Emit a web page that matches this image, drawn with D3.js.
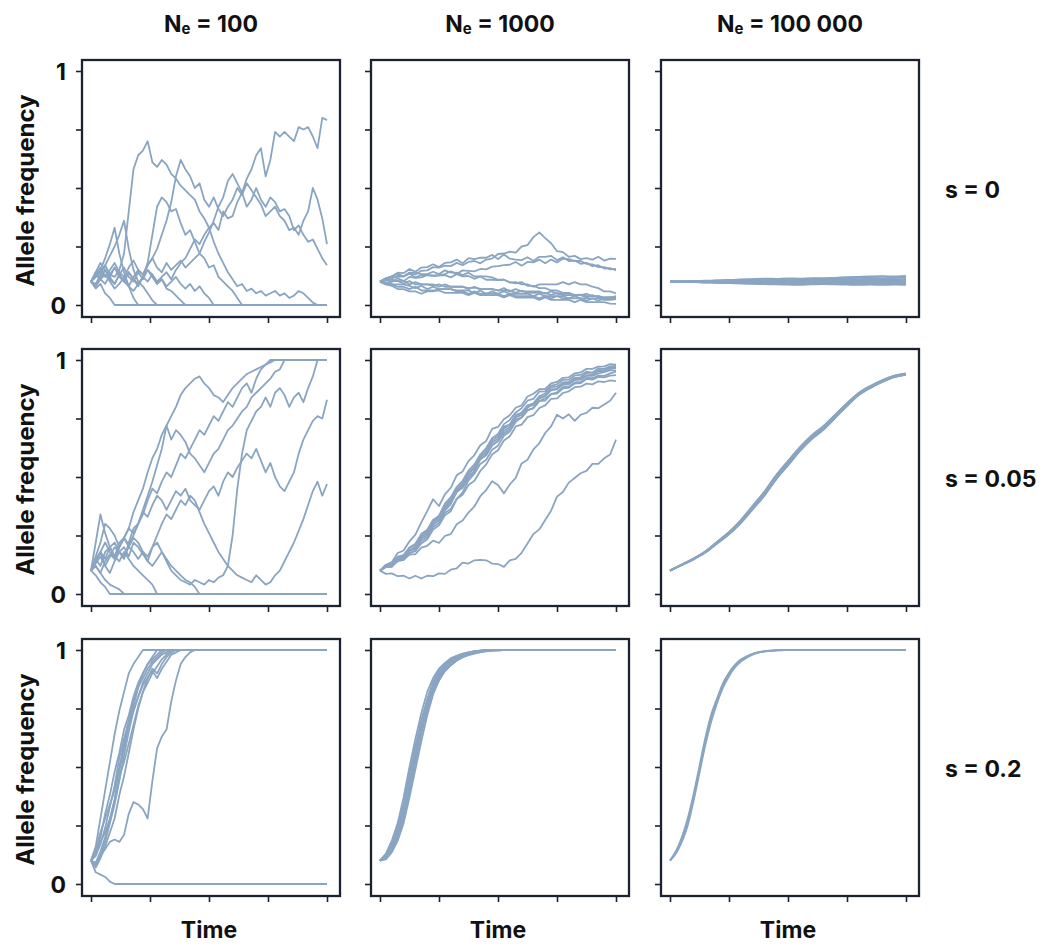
<!DOCTYPE html>
<html>
<head>
<meta charset="utf-8">
<script src="https://cdn.jsdelivr.net/npm/d3@7"></script>
<style>
  body { margin: 0; background: #fff; }
  text { font-family: Inter, "Liberation Sans", Arial, sans-serif; font-weight: 700; fill: #111; }
</style>
</head>
<body>
<svg id="chart" width="1049" height="947"></svg>
<script>
// Column and row headers
const popSizes = ["100", "1000", "100 000"];
const selCoefs = ["0", "0.05", "0.2"];

// Axis ticks (frequency stored in %)
const yTickValues = [0, 25, 50, 75, 100];
const yTickLabels = { 0: "0", 100: "1" };
const xTickValues = [0, 25, 50, 75, 100];

// Allele-frequency trajectories (%), one array per replicate,
// sampled every `step` time units from t = 0 to t = 100.

// Ne = 100, s = 0  (step 2)
const ne100_s0 = [
  [10,12,14,17,13,12,15,22,40,58, 64,66,70,61,59,62,60,56,54,51, 49,47,45,40,37,33,27,22,18,14, 11,8,9,6,7,5,6,4,5,6, 4,5,3,4,6,5,3,1,0,0, 0],
  [10,13,16,12,15,18,14,12,16,19, 15,13,17,20,16,14,18,15,17,19, 16,18,20,22,27,31,36,42,46,53, 56,52,48,54,58,64,67,55,62,74, 72,74,72,70,76,75,76,72,67,80, 79],
  [10,8,12,15,11,9,13,10,8,12, 15,13,17,20,24,30,36,44,55,62, 58,55,50,52,45,42,46,41,38,42, 45,50,47,52,49,46,43,38,40,42, 38,36,32,33,30,36,40,50,45,37, 26],
  [10,14,11,9,13,16,12,10,14,11, 9,12,15,13,10,12,14,11,15,18, 20,24,28,26,30,33,35,32,40,37, 38,44,48,42,45,50,45,42,46,44, 40,41,38,32,34,30,27,28,24,20, 17],
  [10,8,11,13,10,7,9,12,8,6, 9,12,18,30,42,46,44,40,41,35, 30,32,27,22,20,16,17,12,10,8, 6,3,0,0,0,0,0,0,0,0, 0,0,0,0,0,0,0,0,0,0, 0],
  [10,7,9,5,3,0,0,0,0,0, 0,0,0,0,0,0,0,0,0,0, 0,0,0,0,0,0,0,0,0,0, 0,0,0,0,0,0,0,0,0,0, 0,0,0,0,0,0,0,0,0,0, 0],
  [10,12,15,20,26,33,22,14,8,3, 0,0,0,0,0,0,0,0,0,0, 0,0,0,0,0,0,0,0,0,0, 0,0,0,0,0,0,0,0,0,0, 0,0,0,0,0,0,0,0,0,0, 0],
  [10,9,13,17,21,25,30,36,24,15, 10,8,5,2,0,0,0,0,0,0, 0,0,0,0,0,0,0,0,0,0, 0,0,0,0,0,0,0,0,0,0, 0,0,0,0,0,0,0,0,0,0, 0],
  [10,14,18,15,12,16,13,10,14,11, 8,12,10,13,9,11,7,6,4,2, 0,0,0,0,0,0,0,0,0,0, 0,0,0,0,0,0,0,0,0,0, 0,0,0,0,0,0,0,0,0,0, 0],
  [10,13,11,15,12,9,13,16,12,10, 14,11,15,12,9,11,8,10,12,9, 7,9,6,8,5,3,0,0,0,0, 0,0,0,0,0,0,0,0,0,0, 0,0,0,0,0,0,0,0,0,0, 0]
];

// Ne = 1000, s = 0  (step 2.5)
const ne1000_s0 = [
  [10,10.8,11.2,12.5,12.2,13.8,13,14.6,14.8,16.2, 16,16.8,16.6,18,17,18.4,18.8,17.8,19.4,19.8, 21.8,22,22.8,22.4,25,25.6,29,31,28.6,26.4, 23,22.6,20.6,21,19.6,20,19.4,20.6,19,19.8, 19.7],
  [10,11.4,12.2,13.8,13.6,15.4,14.2,16,16.2,17.4, 16.2,18,18.2,19.4,17.8,20,19.6,20.2,20.2,21.4, 19.6,21.6,19.8,19.4,19.2,20.4,18.8,20.6,20.6,21, 19.2,20.4,18.8,19,17.6,18,16.6,17,15.6,15.8, 14.8],
  [10,10.8,9.8,11.4,10.2,12,11.6,11.8,12.8,12.6, 12.8,13.2,14.4,13.2,14.8,14.6,14.4,15.4,15.2,16.4, 16.6,17,17.2,18.4,16.8,18.4,18.2,19.4,17.8,19.4, 18.2,19.8,19.6,18.8,18.8,17.6,17.4,16.2,16.2,15.2, 15.4],
  [10,11.4,11.8,12,12.2,13.4,11.8,12.8,12.8,12.4, 12.6,12.8,11.8,13.2,12.2,12.4,11.2,12.2,10.8,10.8, 10.6,10.8,9.6,9.8,8.8,8.8,7.8,8.8,8.8,8.8, 8.8,9.8,8.8,9.8,8.8,8.8,7.8,7.2,5.8,5.8, 5],
  [10,9.2,10.2,10.2,10.4,8.8,9.8,8.8,8.8,8.8, 7.8,8.8,7.8,7.8,7.8,7.2,7.4,6.8,6.8,6.8, 6.2,7.2,5.8,6.8,5.8,5.8,5.8,5.8,4.8,5.8, 4.8,4.8,4.8,4.2,4.4,3.8,3.8,3.8,3.2,3.4, 3.2],
  [10,8.8,8.8,7.8,7.8,6.8,7.8,6.2,6.2,6.2, 6.2,5.2,5.2,5.2,5.2,4.2,5.2,4.2,4.2,4.2, 4.2,3.2,4.2,3.2,3.2,3.2,3.2,2.2,3.2,2.2, 2.2,2.2,2.2,1.2,2.2,1.2,1.2,1.2,1.2,0.6, 0.5],
  [10,9.8,8.8,8.8,8.8,8.2,7.2,8.2,6.8,7.8, 6.8,6.8,6.8,6.2,6.2,6.2,5.2,6.2,4.8,5.8, 4.8,5.8,4.8,4.8,4.8,4.8,3.8,4.8,3.8,3.8, 3.8,3.8,2.8,3.8,2.8,2.8,2.8,2.8,2.2,2.2, 2.5],
  [10,8.8,8.2,6.8,6.8,5.8,5.8,4.8,5.8,5.8, 6.8,6.8,6.8,5.8,5.8,4.8,5.8,4.8,4.8,4.8, 4.8,3.8,4.8,3.8,3.8,3.8,3.8,2.8,3.8,2.8, 3.8,2.8,2.8,2.8,2.8,1.8,2.8,1.8,2.8,2.8, 3],
  [10,10.8,10.8,10.2,9.2,10.2,8.8,8.8,8.8,8.2, 8.8,7.8,7.8,7.8,7.8,6.8,7.8,6.8,6.8,6.8, 6.2,6.2,6.2,5.2,6.2,5.2,5.2,5.2,5.2,4.2, 5.2,4.2,4.2,4.2,4.2,3.2,4.2,3.2,3.2,3.2, 3.8],
  [10,11.4,12.2,13.4,12.2,13.8,13.8,13.2,13.2,14.2, 13.2,14.8,13.8,13.8,12.8,13.8,12.2,12.2,12.2,11.8, 10.8,10.8,9.8,9.2,9.8,8.2,8.2,7.2,7.2,6.2, 6.2,5.2,5.2,4.2,4.2,4.8,3.8,3.8,2.8,3, 2.6]
];

// Ne = 100 000, s = 0  (step 5)
const ne100k_s0 = [
  [10,10.1,10.2,10.4,10.5,10.7,10.9,11,11.1,11.2,11.4,11.3,11.5,11.4,11.6,11.8,11.9,12,12.1,12,12.1],
  [10,10.1,10.1,10.2,10.4,10.5,10.6,10.7,10.9,10.8,10.9,11,11.1,11.2,11.4,11.5,11.6,11.5,11.4,11.5,11.6],
  [10,10,10.1,10.2,10.2,10.3,10.4,10.3,10.5,10.6,10.5,10.6,10.8,10.7,10.8,10.9,11,10.9,10.8,10.9,11],
  [10,10,10,10.1,10.1,10,10.2,10.1,10.2,10.3,10.2,10.4,10.3,10.4,10.5,10.4,10.3,10.5,10.4,10.5,10.4],
  [10,10,9.9,10,10,10.1,10,9.9,10,10.1,10.2,10.1,10,10.1,10,10.2,10.1,10,10.1,10,10.1],
  [10,9.9,9.9,9.8,9.9,9.8,9.7,9.8,9.7,9.6,9.7,9.6,9.5,9.6,9.7,9.6,9.5,9.6,9.5,9.6,9.5],
  [10,9.9,9.8,9.7,9.6,9.5,9.6,9.5,9.4,9.3,9.2,9.3,9.4,9.3,9.2,9.3,9.2,9.1,9.2,9.3,9.2],
  [10,9.9,9.8,9.6,9.5,9.4,9.3,9.2,9.1,9,8.9,9,9.1,9.2,9.1,9,9.1,9,8.9,9,8.9],
  [10,10,9.9,9.7,9.6,9.4,9.2,9,8.9,8.8,8.7,8.6,8.8,8.9,8.8,8.7,8.6,8.7,8.6,8.7,8.6],
  [10,10.1,10.2,10.3,10.4,10.6,10.8,11.1,11.3,11.2,11.1,11,11.2,11.4,11.6,11.8,12,12.2,12.3,12.2,12.4]
];

// Ne = 100, s = 0.05  (step 2)
const ne100_s005 = [
  [10,12,9,14,17,15,20,24,28,35, 40,45,52,58,62,68,72,76,80,85, 88,90,92,93,90,88,85,84,82,85, 88,90,92,94,95,96,97,98,99,100, 100,100,100,100,100,100,100,100,100,100, 100],
  [10,14,18,12,16,20,18,15,22,28, 30,36,42,48,55,62,72,66,70,68, 65,60,58,55,52,56,60,62,66,70, 72,75,78,80,84,86,88,90,92,95, 96,100,100,100,100,100,100,100,100,100, 100],
  [10,13,16,12,9,14,18,20,16,22, 20,17,14,12,15,18,14,10,8,6, 5,4,6,5,4,6,5,7,8,12, 25,45,60,70,74,78,80,84,80,86, 88,85,80,84,86,82,88,93,100,100, 100],
  [10,15,18,22,18,15,20,24,21,25, 30,35,33,38,42,40,36,40,44,42, 45,40,38,36,40,44,46,42,48,52, 50,54,57,60,58,62,57,52,56,50, 46,44,48,52,60,66,70,74,76,75, 83],
  [10,14,18,15,20,22,18,16,20,24, 22,18,16,20,25,30,34,32,36,40, 38,42,40,35,30,26,22,18,15,12, 10,8,7,6,5,8,6,4,5,8, 10,14,18,22,27,32,38,44,48,42, 47],
  [10,8,5,3,0,0,0,0,0,0, 0,0,0,0,0,0,0,0,0,0, 0,0,0,0,0,0,0,0,0,0, 0,0,0,0,0,0,0,0,0,0, 0,0,0,0,0,0,0,0,0,0, 0],
  [10,22,34,26,20,16,14,18,15,12, 10,8,6,4,0,0,0,0,0,0, 0,0,0,0,0,0,0,0,0,0, 0,0,0,0,0,0,0,0,0,0, 0,0,0,0,0,0,0,0,0,0, 0],
  [10,15,12,18,20,16,22,24,20,18, 15,18,14,20,22,18,15,12,10,8, 6,5,3,0,0,0,0,0,0,0, 0,0,0,0,0,0,0,0,0,0, 0,0,0,0,0,0,0,0,0,0, 0],
  [10,12,9,6,4,3,2,0,0,0, 0,0,0,0,0,0,0,0,0,0, 0,0,0,0,0,0,0,0,0,0, 0,0,0,0,0,0,0,0,0,0, 0,0,0,0,0,0,0,0,0,0, 0],
  [10,16,22,30,28,25,20,24,28,26, 30,34,40,45,43,48,52,50,55,60, 58,62,66,70,68,72,76,74,78,82, 80,84,88,90,86,92,96,98,100,100, 100,100,100,100,100,100,100,100,100,100, 100]
];

// Ne = 1000, s = 0.05  (step 2.5)
const ne1000_s005 = [
  [10,12.5,13.6,17.5,18.6,22.5,25.4,30.6,35.4,40.5, 37.6,42.6,45.4,50.7,52.4,56.8,59.4,63.6,65.4,70.6, 71.4,74.7,76.4,79.6,80.6,84.4,85.6,87.5,87.6,90, 90.6,92.4,92.6,94.3,94.7,96.2,96.2,97.2,97.3,98.2, 98],
  [10,11.6,13,15.6,16.4,19.6,21.4,25.7,27.4,31.6, 33.4,38.6,41.4,45.7,48.4,52.7,55.4,59.6,62.4,66.6, 68.4,72.6,74.4,77.6,79.4,82.6,83.4,86.5,86.6,89, 89.6,91.5,91.6,93.4,93.6,95,94.6,96.4,96.2,97.3, 97.5],
  [10,12,12.2,14.6,15.6,18.6,19.4,23.6,25.4,29.7, 31.4,35.7,38.4,43.6,46.4,51.6,53.4,58.6,60.4,64.7, 66.4,70.6,72.4,76.6,77.4,80.6,81.4,84.5,85.6,88.4, 88.6,90.4,90.6,92.4,92.6,94.4,94.6,95.8,95.7,96.8, 97],
  [10,12.4,12.6,15.5,16,18.6,20.4,24.6,26.4,30.7, 33.4,37.6,40.4,44.7,47.4,51.6,54.4,58.6,61.4,65.6, 67.4,71.5,72.4,75.6,77.4,80.5,80.6,83.5,84.6,87.4, 87.6,89.9,90.1,91.9,92.2,93.4,93.7,95.2,95.2,96.2, 96.5],
  [10,11.5,12.6,15,16.6,20,21.4,24.6,27,31.6, 32.4,36.6,39.4,44.6,46.4,50.6,52.4,57.6,59.4,63.6, 65.4,69.6,71.4,75.6,76.4,79.6,81.4,84.4,84.6,87, 87.6,89.4,89.6,91.4,91.6,93.3,93.2,94.3,94.8,95.7, 95.5],
  [10,12,12.6,16,16.6,18.6,19.4,23.6,25.4,29.6, 32.4,37.6,39.4,43.6,45.4,49.6,52.4,57.6,59.4,63.6, 65.4,68.6,70.4,74.6,75.4,78.6,79.4,82.5,83.6,85.4, 86.2,88.4,88.6,90.4,90.6,92.3,92.2,93.3,93.2,94.3, 95],
  [10,11.5,11.6,14.5,15,17.6,18.4,21.6,23.4,27.6, 29.4,33.6,35.4,40.6,43.4,48.6,51.4,55.6,57.4,61.6, 63.4,67.6,69.4,73.6,75.4,78.5,79.4,82.4,82.6,85.4, 85.6,87.9,88.1,89.9,90.1,91.9,91.6,92.8,92.6,93.3, 93.5],
  [10,11.5,12,14,14.6,17.5,18.4,22.6,24.4,28.6, 30.4,34.6,36.4,40.6,42.4,46.6,48.4,52.6,55.4,59.6, 61.4,65.6,67.4,71.6,72.4,75.6,76.4,79.5,80.6,83.4, 83.6,85.9,86.6,88.4,88.6,89.9,89.6,90.9,90.6,91.3, 91],
  [10,11.6,11.8,14.2,14.6,16.8,17,19.8,20.6,22.8, 21.8,24.8,25.6,29.8,31.4,34.8,37.4,41.8,44.4,48.2, 46.6,43,46.8,49.6,55.8,57.4,61.8,64.4,68.8,71.6, 76.6,75,76.8,74,76.6,77.4,79.6,79.4,81,82.6, 86],
  [10,8.6,8.8,7.6,7.8,6.6,7.8,6.6,7.8,7.6, 8.8,8.6,10.4,11,13.4,13,14.4,14.6,14.4,13, 12.8,11.6,14.4,15,17.6,21.6,25.6,27.6,31.6,35.6, 41.6,43.6,47.6,49.6,51.6,52.6,55.6,55.6,58,59.6, 66]
];

// Ne = 100 000, s = 0.05  (step 5)
const ne100k_s005 = [
  [10,12.6,15.2,18.3,22.4,26.5,31.6,37.7,43.8,50.8,56.9,62.8,67.8,71.8,76.7,81.6,86,89,91.4,93.3,94.3],
  [10,12.6,15.1,18.2,22.2,26.3,31.4,37.4,43.5,50.5,56.6,62.5,67.5,71.5,76.4,81.3,85.8,88.8,91.2,93.2,94.2],
  [10,12.5,15.1,18.1,22.1,26.2,31.2,37.2,43.2,50.2,56.3,62.2,67.2,71.3,76.2,81.1,85.6,88.6,91.1,93.1,94.1],
  [10,12.5,15,18,22,26,31,37,43,50,56,62,67,71,76,81,85.5,88.5,91,93,94],
  [10,12.5,15,17.9,21.9,25.9,30.8,36.8,42.8,49.8,55.7,61.8,66.8,70.8,75.8,80.8,85.4,88.4,90.9,92.9,93.9],
  [10,12.4,14.9,17.8,21.8,25.7,30.6,36.5,42.5,49.5,55.4,61.5,66.5,70.6,75.6,80.6,85.2,88.3,90.8,92.8,93.8],
  [10,12.4,14.9,17.8,21.7,25.6,30.4,36.3,42.2,49.2,55.1,61.2,66.3,70.4,75.4,80.5,85.1,88.2,90.7,92.8,93.7],
  [10,12.4,14.8,17.7,21.6,25.5,30.3,36.1,42,49,54.9,61,66.1,70.2,75.2,80.3,85,88.1,90.6,92.7,93.7]
];

// Ne = 100, s = 0.2  (step 2)
const ne100_s02 = [
  [10,16,28,40,52,64,74,82,90,94, 97,100,100,100,100,100,100,100,100,100, 100,100,100,100,100,100,100,100,100,100, 100,100,100,100,100,100,100,100,100,100, 100,100,100,100,100,100,100,100,100,100, 100],
  [10,14,20,30,38,48,56,66,72,80, 86,90,94,96,98,100,100,100,100,100, 100,100,100,100,100,100,100,100,100,100, 100,100,100,100,100,100,100,100,100,100, 100,100,100,100,100,100,100,100,100,100, 100],
  [10,12,17,24,33,42,54,62,70,78, 84,88,92,95,97,99,100,100,100,100, 100,100,100,100,100,100,100,100,100,100, 100,100,100,100,100,100,100,100,100,100, 100,100,100,100,100,100,100,100,100,100, 100],
  [10,8,12,18,26,34,44,55,65,74, 80,86,90,94,96,98,99,100,100,100, 100,100,100,100,100,100,100,100,100,100, 100,100,100,100,100,100,100,100,100,100, 100,100,100,100,100,100,100,100,100,100, 100],
  [10,13,18,22,28,36,46,52,60,68, 76,82,86,90,93,96,98,100,100,100, 100,100,100,100,100,100,100,100,100,100, 100,100,100,100,100,100,100,100,100,100, 100,100,100,100,100,100,100,100,100,100, 100],
  [10,9,14,20,27,36,48,58,68,76, 84,90,94,97,100,100,100,100,100,100, 100,100,100,100,100,100,100,100,100,100, 100,100,100,100,100,100,100,100,100,100, 100,100,100,100,100,100,100,100,100,100, 100],
  [10,15,22,28,34,40,50,60,68,74, 80,85,88,92,90,94,97,99,100,100, 100,100,100,100,100,100,100,100,100,100, 100,100,100,100,100,100,100,100,100,100, 100,100,100,100,100,100,100,100,100,100, 100],
  [10,7,11,16,22,28,38,46,56,66, 75,82,88,91,88,92,95,98,99,100, 100,100,100,100,100,100,100,100,100,100, 100,100,100,100,100,100,100,100,100,100, 100,100,100,100,100,100,100,100,100,100, 100],
  [10,9,12,15,18,19,18,21,30,35, 34,32,28,44,58,63,66,78,87,94, 97,99,100,100,100,100,100,100,100,100, 100,100,100,100,100,100,100,100,100,100, 100,100,100,100,100,100,100,100,100,100, 100],
  [10,5,4,3,1,0,0,0,0,0, 0,0,0,0,0,0,0,0,0,0, 0,0,0,0,0,0,0,0,0,0, 0,0,0,0,0,0,0,0,0,0, 0,0,0,0,0,0,0,0,0,0, 0]
];

// Ne = 1000, s = 0.2  (step 2.5)
const ne1000_s02 = [
  [10,13,18.5,26,37,50,62,73,82,88, 92,94.5,96.5,97.5,98.5,99,99.5,99.7,99.9,100, 100,100,100,100,100,100,100,100,100,100, 100,100,100,100,100,100,100,100,100,100, 100],
  [10,12.5,17,24,34,47,59,70,79,86.5, 91,94,96,97.5,98.3,99,99.4,99.7,99.9,100, 100,100,100,100,100,100,100,100,100,100, 100,100,100,100,100,100,100,100,100,100, 100],
  [10,12,15.5,21.5,31,44,57,68,78,85.5, 90.5,93.5,95.5,97,98,98.8,99.4,99.7,99.9,100, 100,100,100,100,100,100,100,100,100,100, 100,100,100,100,100,100,100,100,100,100, 100],
  [10,11.5,15,20.5,29,41,54,66,76,84, 89.5,93,95.5,97,98,98.7,99.2,99.6,99.8,100, 100,100,100,100,100,100,100,100,100,100, 100,100,100,100,100,100,100,100,100,100, 100],
  [10,12,16,22,30,42,55,67,77,85, 89,92,94.5,96,97.2,98,98.8,99.3,99.6,99.8, 99.9,100,100,100,100,100,100,100,100,100, 100,100,100,100,100,100,100,100,100,100, 100],
  [10,11,14,19,27,39,52,64,75,83, 88.5,92.5,95,96.8,98,98.8,99.3,99.6,99.8,99.9, 100,100,100,100,100,100,100,100,100,100, 100,100,100,100,100,100,100,100,100,100, 100],
  [10,11.5,14.5,20,28.5,40,53,65,74,82, 87,91,93.5,95.5,96.8,97.8,98.5,99,99.4,99.7, 99.9,100,100,100,100,100,100,100,100,100, 100,100,100,100,100,100,100,100,100,100, 100],
  [10,12.5,16.5,23,32,45,58,69,78,85.5, 90,93,95,96.5,97.5,98.3,99,99.5,99.8,99.9, 100,100,100,100,100,100,100,100,100,100, 100,100,100,100,100,100,100,100,100,100, 100],
  [10,10.5,13.5,18.5,26,37,49,61,72,81, 87,91.5,94.5,96.5,97.8,98.6,99.2,99.6,99.8,100, 100,100,100,100,100,100,100,100,100,100, 100,100,100,100,100,100,100,100,100,100, 100],
  [10,12,15,21,30.5,43.5,56.5,68,77.5,84, 88,91,93.5,95.5,97,98,98.7,99.2,99.6,99.8, 99.9,100,100,100,100,100,100,100,100,100, 100,100,100,100,100,100,100,100,100,100, 100]
];

// Ne = 100 000, s = 0.2  (step 2.5)
const ne100k_s02 = [
  [10,13.5,19,26.5,37,49,61,71,78.5,85, 89.5,93,95.5,97,98.2,99,99.4,99.7,99.85,99.95, 100,100,100,100,100,100,100,100,100,100, 100,100,100,100,100,100,100,100,100,100, 100],
  [10,14,20,28,38.5,50.5,62.5,72.5,79.5,86, 90.3,93.6,95.9,97.3,98.4,99.1,99.5,99.75,99.9,100, 100,100,100,100,100,100,100,100,100,100, 100,100,100,100,100,100,100,100,100,100, 100],
  [10,13,18,25,35.5,47.5,59.5,69.5,77.5,84, 88.8,92.5,95.1,96.7,98,98.9,99.3,99.65,99.8,99.9, 100,100,100,100,100,100,100,100,100,100, 100,100,100,100,100,100,100,100,100,100, 100]
];

// Panel grid: rows = selection coefficient, columns = effective population size
const panels = [
  [ { lines: ne100_s0,   step: 2 },   { lines: ne1000_s0,   step: 2.5 }, { lines: ne100k_s0,   step: 5,   smooth: true } ],
  [ { lines: ne100_s005, step: 2 },   { lines: ne1000_s005, step: 2.5 }, { lines: ne100k_s005, step: 5,   smooth: true } ],
  [ { lines: ne100_s02,  step: 2 },   { lines: ne1000_s02,  step: 2.5 }, { lines: ne100k_s02,  step: 2.5, smooth: true } ]
];

// Layout
const colLeft = [82, 371, 661];
const rowTop = [60, 349, 639];
const panelW = 258, panelH = 257;
const lineColor = "#8aa5c1";
const frameColor = "#1b2230";

const svg = d3.select("#chart");

panels.forEach((row, r) => {
  row.forEach((cell, c) => {
    const left = colLeft[c], top = rowTop[r];
    const x = d3.scaleLinear().domain([0, 100]).range([left + 9, left + 245]);
    const y = d3.scaleLinear().domain([0, 100]).range([top + 245, top + 11]);

    const g = svg.append("g");

    const line = d3.line()
      .x((d, i) => x(i * cell.step))
      .y(d => y(d))
      .curve(cell.smooth ? d3.curveMonotoneX : d3.curveLinear);

    g.append("g")
      .selectAll("path")
      .data(cell.lines)
      .join("path")
      .attr("d", line)
      .attr("fill", "none")
      .attr("stroke", lineColor)
      .attr("stroke-width", 1.8)
      .attr("stroke-linejoin", "round");

    // frame
    g.append("rect")
      .attr("x", left).attr("y", top)
      .attr("width", panelW).attr("height", panelH)
      .attr("fill", "none")
      .attr("stroke", frameColor)
      .attr("stroke-width", 2.3);

    // y axis
    const yAxis = g.append("g")
      .attr("transform", `translate(${left - 1},0)`)
      .call(d3.axisLeft(y).tickValues(yTickValues).tickSize(5).tickPadding(10)
        .tickFormat(d => c === 0 ? (yTickLabels[d] || "") : ""));
    yAxis.select(".domain").remove();
    yAxis.selectAll(".tick line").attr("stroke", frameColor).attr("stroke-width", 1.6);
    yAxis.selectAll(".tick text")
      .attr("fill", "#111")
      .style("font-size", "23px")
      .style("font-family", "Inter, 'Liberation Sans', Arial, sans-serif")
      .style("font-weight", 700)
      .attr("dy", "0.36em");

    // x axis
    const xAxis = g.append("g")
      .attr("transform", `translate(0,${top + panelH + 1})`)
      .call(d3.axisBottom(x).tickValues(xTickValues).tickSize(5).tickFormat(""));
    xAxis.select(".domain").remove();
    xAxis.selectAll(".tick line").attr("stroke", frameColor).attr("stroke-width", 1.6);
  });
});

// Column titles: N_e = ...
popSizes.forEach((n, c) => {
  const t = svg.append("text")
    .attr("x", colLeft[c] + panelW / 2)
    .attr("y", 32)
    .attr("text-anchor", "middle")
    .style("font-size", "23px");
  t.append("tspan").text("N");
  t.append("tspan").text("e").style("font-size", "15px").attr("dy", 2);
  t.append("tspan").text(" = " + n).attr("dy", -2);
});

// Row labels: s = ...
selCoefs.forEach((s, r) => {
  svg.append("text")
    .attr("x", 945)
    .attr("y", rowTop[r] + panelH / 2 + 9)
    .style("font-size", "23px")
    .text("s = " + s);
});

// Y axis titles
rowTop.forEach(top => {
  svg.append("text")
    .attr("transform", `translate(34,${top + panelH / 2 + 2}) rotate(-90)`)
    .attr("text-anchor", "middle")
    .style("font-size", "24px")
    .text("Allele frequency");
});

// X axis titles
colLeft.forEach(left => {
  svg.append("text")
    .attr("x", left + 127)
    .attr("y", 938)
    .attr("text-anchor", "middle")
    .style("font-size", "23px")
    .text("Time");
});
</script>
</body>
</html>
